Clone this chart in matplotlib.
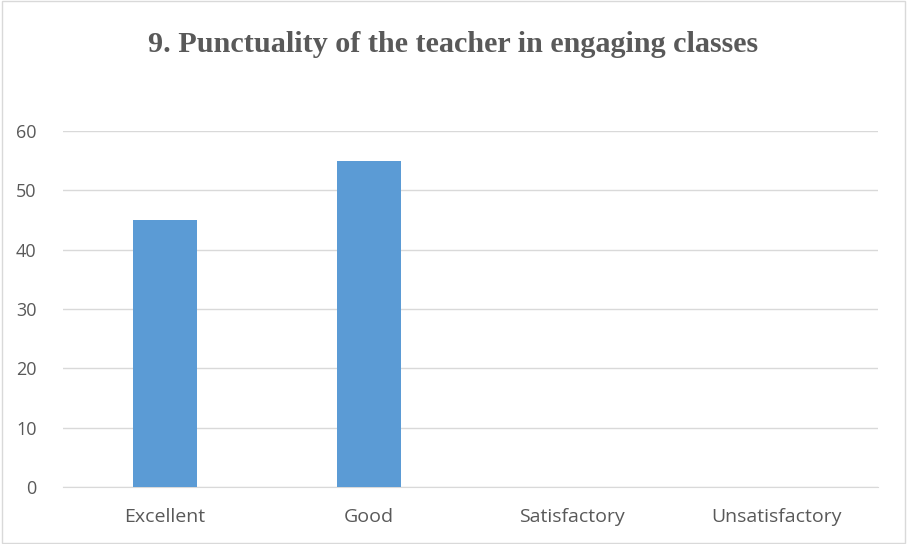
import matplotlib
matplotlib.use('Agg')
from matplotlib import pyplot as plt
from matplotlib.patches import Rectangle

categories = ['Excellent', 'Good', 'Satisfactory', 'Unsatisfactory']
values = [45, 55, 0, 0]
title = '9. Punctuality of the teacher in engaging classes'

fig = plt.figure(figsize=(9.07, 5.44), dpi=100)
ax = fig.add_axes([63 / 907, 1 - 487 / 544, (878 - 63) / 907, (487 - 131) / 544])

x = range(len(categories))
ax.bar(x, values, width=0.313, color='#5B9BD5', zorder=3)

ax.set_xlim(-0.5, len(categories) - 0.5)
ax.set_ylim(0, 60)
ax.set_yticks(range(0, 61, 10))
ax.set_xticks(list(x))
ax.set_xticklabels(categories)

ax.grid(axis='y', color='#D9D9D9', linewidth=1, zorder=0)
for side in ['top', 'right', 'left']:
    ax.spines[side].set_visible(False)
ax.spines['bottom'].set_color('#D9D9D9')
ax.tick_params(axis='both', length=0, labelcolor='#595959')
ax.tick_params(axis='x', pad=15, labelsize=14)
ax.tick_params(axis='y', pad=19, labelsize=13)
for lbl in ax.get_xticklabels() + ax.get_yticklabels():
    lbl.set_family('Open Sans')

fig.text(0.5, 1 - 44 / 544, title, ha='center', va='center',
         fontsize=21.7, fontweight='bold', family='Liberation Serif', color='#595959')

# thin border round the chart
fig.patches.append(Rectangle((0.002, 0.002), 0.996, 0.996, transform=fig.transFigure,
                             fill=False, edgecolor='#D9D9D9', linewidth=1))

fig.savefig('out.png', dpi=100)
